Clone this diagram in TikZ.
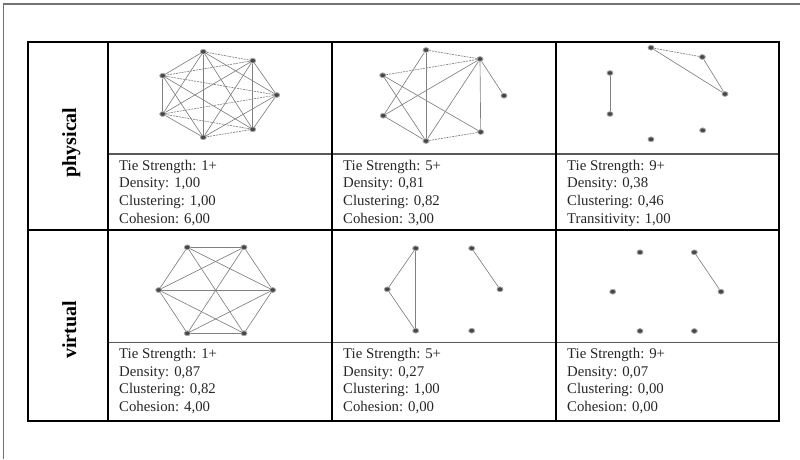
\documentclass[tikz,border=0pt]{standalone}
\usepackage{fontspec}
\setmainfont{Liberation Serif}
\tikzset{
  vtx/.style={ellipse, inner sep=0pt, minimum width=6pt, minimum height=4.8pt, fill=black!72, draw=black!35, line width=0.8pt},
  edge/.style={draw=black!50, line width=0.65pt},
  jag/.style={edge, dash pattern=on 2pt off 0.9pt},
  gridline/.style={line width=2.2pt, black},
  sepline/.style={line width=1.2pt, black!65},
  frameline/.style={line width=1.2pt, black!55},
  stat/.style={anchor=base west, inner sep=0pt, font=\fontsize{14.8}{17.7}\selectfont, text=black!85},
  rowlabel/.style={rotate=90, anchor=base, inner sep=0pt, font=\fontsize{20}{24}\selectfont\bfseries},
}
\usetikzlibrary{shapes.geometric}
\newcommand\statcell[7]{%
  \node[stat] (#1-1) at (#2,#3) {#4};
  \node[stat] (#1-2) at (#2,#3+17.7) {#5};
  \node[stat] (#1-3) at (#2,#3+35.4) {#6};
  \node[stat] (#1-4) at (#2,#3+53.1) {#7};
}
\begin{document}
\begin{tikzpicture}[x=1pt,y=-1pt]
\useasboundingbox (0,0) rectangle (800,459);
% outer frame
\draw[frameline] (3.5,459) -- (3.5,4) -- (800,4);
% table grid
\draw[sepline] (108.3,154) -- (779.3,154);
\draw[sepline] (108.3,342.3) -- (779.3,342.3);
\draw[gridline] (28.3,41.7) rectangle (779.3,420.7);
\draw[gridline] (28.3,230) -- (779.3,230);
\draw[gridline] (108.3,41.7) -- (108.3,420.7);
\draw[gridline] (331.7,41.7) -- (331.7,420.7);
\draw[gridline] (556,41.7) -- (556,420.7);
% row labels
\node[rowlabel] (lphys) at (76,142.5) {physical};
\node[rowlabel] (lvirt) at (76,330) {virtual};
% stats
\statcell{ps1}{119}{170}{Tie Strength: 1+}{Density: 1,00}{Clustering: 1,00}{Cohesion: 6,00}
\statcell{ps2}{343}{170}{Tie Strength: 5+}{Density: 0,81}{Clustering: 0,82}{Cohesion: 3,00}
\statcell{ps3}{567}{170}{Tie Strength: 9+}{Density: 0,38}{Clustering: 0,46}{Transitivity: 1,00}
\statcell{vs1}{119}{358.5}{Tie Strength: 1+}{Density: 0,87}{Clustering: 0,82}{Cohesion: 4,00}
\statcell{vs2}{343}{358.5}{Tie Strength: 5+}{Density: 0,27}{Clustering: 1,00}{Cohesion: 0,00}
\statcell{vs3}{567}{358.5}{Tie Strength: 9+}{Density: 0,07}{Clustering: 0,00}{Cohesion: 0,00}
% physical 1
\node[vtx] (p1a) at (203.3,51.7) {};
\node[vtx] (p1b) at (252.7,60.7) {};
\node[vtx] (p1c) at (276.7,95) {};
\node[vtx] (p1d) at (252.7,129.3) {};
\node[vtx] (p1e) at (203.3,137.3) {};
\node[vtx] (p1f) at (162.7,114) {};
\node[vtx] (p1g) at (162.7,75.7) {};
\foreach \u/\v in {a/c,a/d,a/e,a/f,a/g,b/c,b/d,b/e,b/f,c/d,c/e,d/g,e/f,e/g,f/g}
  \draw[edge] (p1\u) -- (p1\v);
\foreach \u/\v in {a/b,b/g,c/f,c/g,d/e,d/f}
  \draw[jag] (p1\u) -- (p1\v);
% physical 2
\node[vtx] (p2a) at (426,50) {};
\node[vtx] (p2b) at (480,59) {};
\node[vtx] (p2c) at (504,95.7) {};
\node[vtx] (p2d) at (480.7,132) {};
\node[vtx] (p2e) at (426,141) {};
\node[vtx] (p2f) at (383.3,115.7) {};
\node[vtx] (p2g) at (382.7,75.3) {};
\foreach \u/\v in {a/e,a/f,b/f,b/e,b/d,b/c,g/e,g/d,f/e}
  \draw[edge] (p2\u) -- (p2\v);
\foreach \u/\v in {a/b,b/g,e/d}
  \draw[jag] (p2\u) -- (p2\v);
% physical 3
\node[vtx] (p3a) at (651,47.7) {};
\node[vtx] (p3b) at (702.3,57) {};
\node[vtx] (p3c) at (725,94) {};
\node[vtx] (p3d) at (702.7,130.3) {};
\node[vtx] (p3e) at (651,139.3) {};
\node[vtx] (p3f) at (610,114) {};
\node[vtx] (p3g) at (610,73) {};
\foreach \u/\v in {a/c,b/c,g/f}
  \draw[edge] (p3\u) -- (p3\v);
\draw[jag] (p3a) -- (p3b);
% virtual 1
\node[vtx] (v1a) at (187.3,247.3) {};
\node[vtx] (v1b) at (244,247.3) {};
\node[vtx] (v1c) at (272.7,290) {};
\node[vtx] (v1d) at (244,333.3) {};
\node[vtx] (v1e) at (187.3,333.3) {};
\node[vtx] (v1f) at (158.7,290) {};
\foreach \u/\v in {a/b,b/c,c/d,d/e,e/f,f/a,a/c,a/d,b/f,b/e,f/c,f/d,e/c}
  \draw[edge] (v1\u) -- (v1\v);
% virtual 2
\node[vtx] (v2a) at (415.7,248.3) {};
\node[vtx] (v2b) at (471.7,248.3) {};
\node[vtx] (v2c) at (500,289.3) {};
\node[vtx] (v2d) at (471.7,330.7) {};
\node[vtx] (v2e) at (415.7,330.7) {};
\node[vtx] (v2f) at (387.3,289.3) {};
\foreach \u/\v in {a/f,a/e,f/e,b/c}
  \draw[edge] (v2\u) -- (v2\v);
% virtual 3
\node[vtx] (v3a) at (640,252.3) {};
\node[vtx] (v3b) at (694.3,252.3) {};
\node[vtx] (v3c) at (721,291.7) {};
\node[vtx] (v3d) at (694.3,331) {};
\node[vtx] (v3e) at (640,331) {};
\node[vtx] (v3f) at (612.7,291.7) {};
\draw[edge] (v3b) -- (v3c);
\end{tikzpicture}
\end{document}
